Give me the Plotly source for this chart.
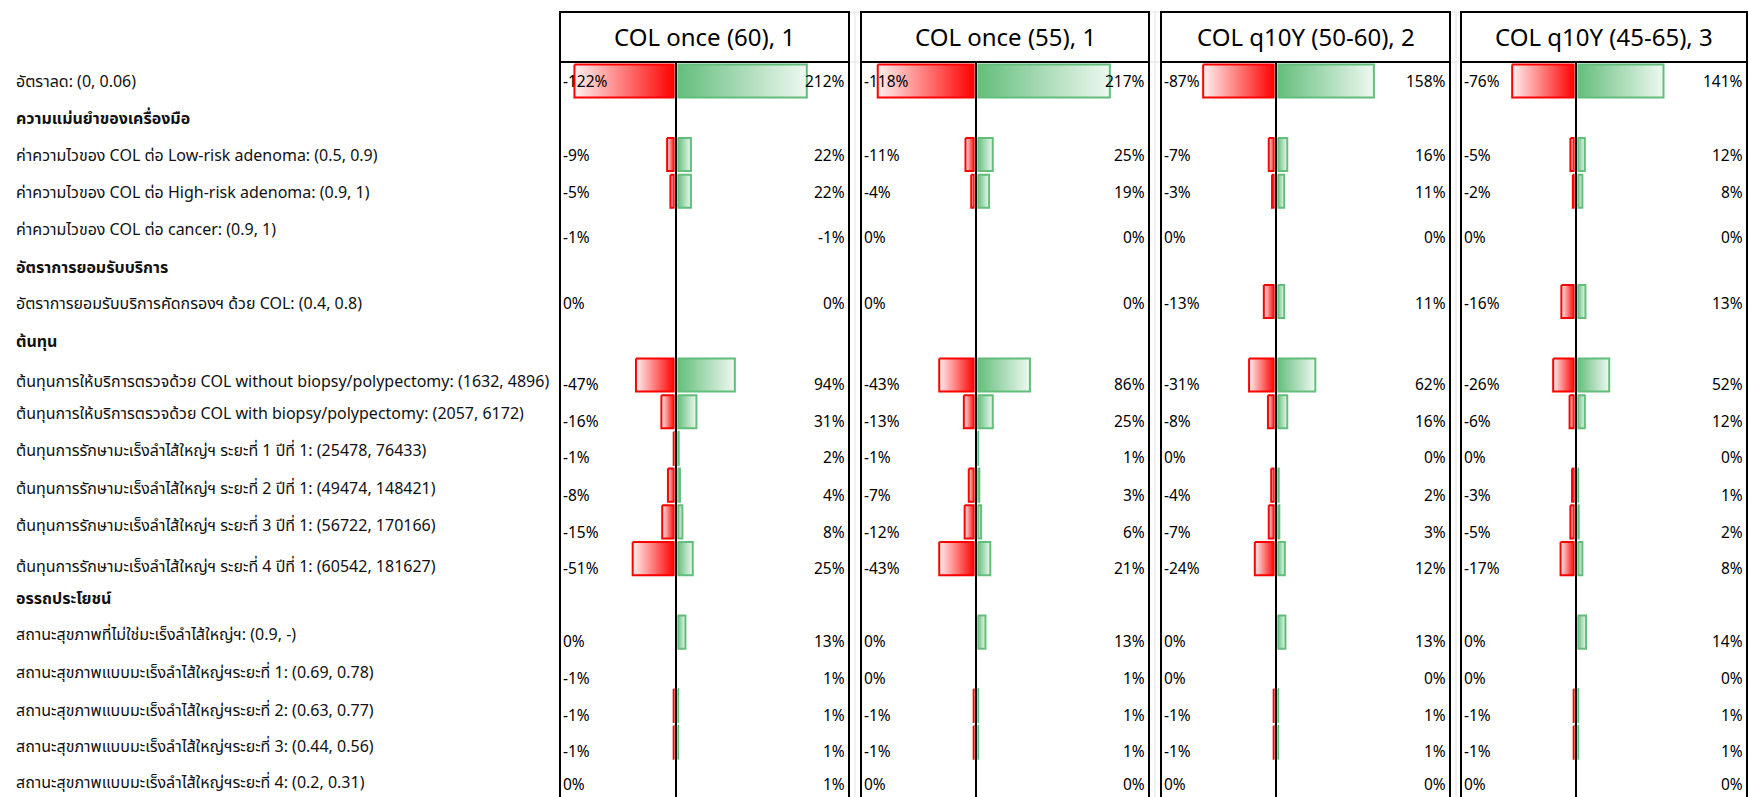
import plotly.graph_objects as go

# ---------------- data ----------------
row_labels = [
    "อัตราลด: (0, 0.06)",
    "ความแม่นยำของเครื่องมือ",
    "ค่าความไวของ COL ต่อ Low-risk adenoma: (0.5, 0.9)",
    "ค่าความไวของ COL ต่อ High-risk adenoma: (0.9, 1)",
    "ค่าความไวของ COL ต่อ cancer: (0.9, 1)",
    "อัตราการยอมรับบริการ",
    "อัตราการยอมรับบริการคัดกรองฯ ด้วย COL: (0.4, 0.8)",
    "ต้นทุน",
    "ต้นทุนการให้บริการตรวจด้วย COL without biopsy/polypectomy: (1632, 4896)",
    "ต้นทุนการให้บริการตรวจด้วย COL with biopsy/polypectomy: (2057, 6172)",
    "ต้นทุนการรักษามะเร็งลำไส้ใหญ่ฯ ระยะที่ 1 ปีที่ 1: (25478, 76433)",
    "ต้นทุนการรักษามะเร็งลำไส้ใหญ่ฯ ระยะที่ 2 ปีที่ 1: (49474, 148421)",
    "ต้นทุนการรักษามะเร็งลำไส้ใหญ่ฯ ระยะที่ 3 ปีที่ 1: (56722, 170166)",
    "ต้นทุนการรักษามะเร็งลำไส้ใหญ่ฯ ระยะที่ 4 ปีที่ 1: (60542, 181627)",
    "อรรถประโยชน์",
    "สถานะสุขภาพที่ไม่ใช่มะเร็งลำไส้ใหญ่ฯ: (0.9, -)",
    "สถานะสุขภาพแบบมะเร็งลำไส้ใหญ่ฯระยะที่ 1: (0.69, 0.78)",
    "สถานะสุขภาพแบบมะเร็งลำไส้ใหญ่ฯระยะที่ 2: (0.63, 0.77)",
    "สถานะสุขภาพแบบมะเร็งลำไส้ใหญ่ฯระยะที่ 3: (0.44, 0.56)",
    "สถานะสุขภาพแบบมะเร็งลำไส้ใหญ่ฯระยะที่ 4: (0.2, 0.31)",
]
section_rows = [1, 5, 7, 14]
data_rows = [0, 2, 3, 4, 6, 8, 9, 10, 11, 12, 13, 15, 16, 17, 18, 19]

panel_titles = ["COL once (60), 1", "COL once (55), 1", "COL q10Y (50-60), 2", "COL q10Y (45-65), 3"]

# percent change (%), low / high parameter value, one entry per data row
p1_low = [-122, -9, -5, -0.6, 0, -47, -16, -1, -8, -15, -51, 0, -0.6, -1, -1, 0]
p1_high = [212, 22, 22, -0.6, 0, 94, 31, 2, 4, 8, 25, 13, 0.6, 1, 1, 0.6]
p2_low = [-118, -11, -4, 0, 0, -43, -13, -0.6, -7, -12, -43, 0, 0, -1, -1, 0]
p2_high = [217, 25, 19, 0, 0, 86, 25, 1, 3, 6, 21, 13, 0.6, 1, 1, 0]
p3_low = [-87, -7, -3, 0, -13, -31, -8, 0, -4, -7, -24, 0, 0, -1, -1, 0]
p3_high = [158, 16, 11, 0, 11, 62, 16, 0, 2, 3, 12, 13, 0, 1, 1, 0]
p4_low = [-76, -5, -2, 0, -16, -26, -6, 0, -3, -5, -17, 0, 0, -1, -1, 0]
p4_high = [141, 12, 8, 0, 13, 52, 12, 0, 1, 2, 8, 14, 0, 1, 1, 0]
panel_low = [p1_low, p2_low, p3_low, p4_low]
panel_high = [p1_high, p2_high, p3_high, p4_high]

# ---------------- layout / style ----------------
W, H = 1749, 797
ROW0, ROW = 81.0, 36.74           # pixel centre of first row, row pitch
PANEL_L = [560, 861, 1161, 1461]
PANEL_C = [676, 976, 1276, 1576]
PANEL_R = [849, 1149, 1450, 1747]
GAP = 1.5                          # bars start just outside the centre line
PX_NEG, PX_POS = 0.82, 0.61       # pixels per percent on each side
HEAD_TOP, HEAD_BOT = 12, 62
BAR_HALF = 0.45
TEXT_DY = {0: 0, 2: 1, 3: 1, 4: 9, 6: 2, 8: 9, 9: 9, 10: 9, 11: 10, 12: 10, 13: 9,
           15: 9, 16: 9, 17: 9, 18: 9, 19: 5}
LABEL_DY = [0, 0, 1, 1, 1, 2, 2, 3, 6, 1, 2, 3, 3, 7, 3, 2, 3, 4, 4, 3]
FONT = "Tahoma, 'Noto Sans', 'Noto Sans Thai', sans-serif"
RED, RED_LIGHT = "#FF0000", "#FFF0F0"
GREEN, GREEN_LIGHT = "#63BE7B", "#EEF8F1"
LABEL_SIZE, VALUE_SIZE, TITLE_SIZE = 16, 15.5, 24


def px(x):
    return x / W


def py(y):
    return 1 - y / H


fig = go.Figure()
layout_axes = {}

for p in range(4):
    L, C, R = PANEL_L[p], PANEL_C[p], PANEL_R[p]
    ia, ib = 2 * p + 1, 2 * p + 2
    na = "xaxis" if ia == 1 else f"xaxis{ia}"
    nb = f"xaxis{ib}"
    ra = [-(C - GAP - L) / PX_NEG, 0]
    rb = [0, (R - C - GAP) / PX_POS]
    layout_axes[na] = dict(domain=[px(L), px(C - GAP)], range=ra, visible=False, anchor="y", fixedrange=True)
    layout_axes[nb] = dict(domain=[px(C + GAP), px(R)], range=rb, visible=False, anchor="y", fixedrange=True)
    xa = "x" if ia == 1 else f"x{ia}"
    xb = f"x{ib}"

    for j, k in enumerate(data_rows):
        lo, hi = panel_low[p][j], panel_high[p][j]
        if lo <= -1:
            fig.add_trace(go.Scatter(
                x=[lo, 0, 0, lo, lo], y=[k - BAR_HALF, k - BAR_HALF, k + BAR_HALF, k + BAR_HALF, k - BAR_HALF],
                xaxis=xa, yaxis="y", mode="lines", fill="toself",
                line=dict(color=RED, width=2),
                fillgradient=dict(type="horizontal", colorscale=[[0, RED_LIGHT], [1, RED]]),
                hoverinfo="skip", showlegend=False))
        if hi >= 1:
            fig.add_trace(go.Scatter(
                x=[0, hi, hi, 0, 0], y=[k - BAR_HALF, k - BAR_HALF, k + BAR_HALF, k + BAR_HALF, k - BAR_HALF],
                xaxis=xb, yaxis="y", mode="lines", fill="toself",
                line=dict(color=GREEN, width=2),
                fillgradient=dict(type="horizontal", colorscale=[[0, GREEN], [1, GREEN_LIGHT]]),
                hoverinfo="skip", showlegend=False))
        dy = TEXT_DY.get(k, 0)
        fig.add_annotation(x=ra[0], y=k, xref=xa, yref="y", text=f"{int(round(lo))}%",
                           xanchor="left", yanchor="middle", xshift=1, yshift=-dy, showarrow=False,
                           font=dict(family=FONT, size=VALUE_SIZE, color="#000"))
        fig.add_annotation(x=rb[1], y=k, xref=xb, yref="y", text=f"{int(round(hi))}%",
                           xanchor="right", yanchor="middle", xshift=-2, yshift=-dy, showarrow=False,
                           font=dict(family=FONT, size=VALUE_SIZE, color="#000"))

    # header box + title
    fig.add_shape(type="rect", xref="paper", yref="paper", x0=px(L), x1=px(R), y0=py(HEAD_BOT), y1=py(HEAD_TOP),
                  line=dict(color="black", width=2), fillcolor="white", layer="above")
    fig.add_annotation(x=px((L + R) / 2), y=py((HEAD_TOP + HEAD_BOT) / 2), xref="paper", yref="paper",
                       text=panel_titles[p], showarrow=False, xanchor="center", yanchor="middle",
                       font=dict(family=FONT, size=TITLE_SIZE, color="#000"))
    # panel borders and centre line
    for xx in (L, R):
        fig.add_shape(type="line", xref="paper", yref="paper", x0=px(xx), x1=px(xx), y0=py(HEAD_TOP), y1=0,
                      line=dict(color="black", width=2), layer="above")
    fig.add_shape(type="line", xref="paper", yref="paper", x0=px(C), x1=px(C), y0=py(HEAD_BOT), y1=0,
                  line=dict(color="black", width=2), layer="above")
    # faint spreadsheet gridlines in the gaps
    if p < 3:
        gx = R + 6
        fig.add_shape(type="line", xref="paper", yref="paper", x0=px(gx), x1=px(gx), y0=py(HEAD_TOP), y1=0,
                      line=dict(color="#E4E4E4", width=1), layer="below")
        for yy in (HEAD_TOP, HEAD_BOT):
            fig.add_shape(type="line", xref="paper", yref="paper", x0=px(R), x1=px(PANEL_L[p + 1]),
                          y0=py(yy), y1=py(yy), line=dict(color="#E4E4E4", width=1), layer="below")

# row labels
for k, lab in enumerate(row_labels):
    bold = k in section_rows
    fig.add_annotation(x=px(14), y=k, xref="paper", yref="y", yshift=-LABEL_DY[k],
                       text=f"<b>{lab}</b>" if bold else lab, xanchor="left", yanchor="middle",
                       showarrow=False, font=dict(family=FONT, size=LABEL_SIZE, color="#111"))

fig.update_layout(
    width=W, height=H, margin=dict(l=0, r=0, t=0, b=0),
    paper_bgcolor="white", plot_bgcolor="white", showlegend=False,
    yaxis=dict(domain=[0, 1], range=[(H - ROW0) / ROW, -ROW0 / ROW], visible=False, fixedrange=True),
    **layout_axes,
)
fig.write_html("out.html", config={"displayModeBar": False},
               post_script="document.body.style.margin='0';document.body.style.overflow='hidden';")
